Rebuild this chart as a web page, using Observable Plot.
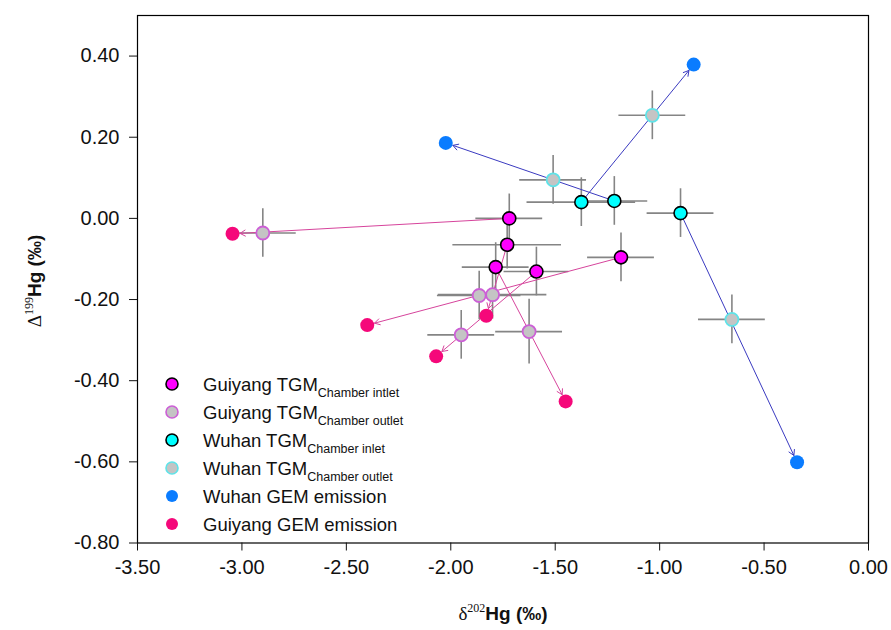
<!DOCTYPE html>
<html>
<head>
<meta charset="utf-8">
<script src="https://cdn.jsdelivr.net/npm/d3@7"></script>
<script src="https://cdn.jsdelivr.net/npm/@observablehq/plot@0.6"></script>
<style>
  body { margin: 0; background: #fff; }
  #chart { position: relative; width: 891px; height: 630px; }
  svg { font-family: "Liberation Sans", Arial, sans-serif; }
</style>
</head>
<body>
<div id="chart"></div>
<script>
// ---- tick values ----
const xTicks = [-3.5, -3, -2.5, -2, -1.5, -1, -0.5, 0];
const yTicks = [-0.8, -0.6, -0.4, -0.2, 0, 0.2, 0.4];

// ---- Guiyang (paired inlet -> outlet -> emission) ----
const guiyangInletX    = [-1.72, -1.73, -1.785, -1.59, -1.185];
const guiyangInletY    = [0.00, -0.065, -0.12, -0.131, -0.096];
const guiyangInletXErr = [0.16, 0.26, 0.16, 0.155, 0.16];
const guiyangInletYErr = [0.06, 0.06, 0.06, 0.06, 0.06];

const guiyangOutletX    = [-2.90, -1.80, -1.625, -1.95, -1.864];
const guiyangOutletY    = [-0.036, -0.188, -0.279, -0.287, -0.19];
const guiyangOutletXErr = [0.16, 0.26, 0.16, 0.16, 0.20];
const guiyangOutletYErr = [0.06, 0.06, 0.08, 0.06, 0.06];

const guiyangGemX = [-3.045, -1.83, -1.45, -2.07, -2.40];
const guiyangGemY = [-0.038, -0.24, -0.451, -0.34, -0.263];

// ---- Wuhan ----
const wuhanInletX    = [-1.375, -1.217, -0.90];
const wuhanInletY    = [0.04, 0.043, 0.013];
const wuhanInletXErr = [0.26, 0.16, 0.16];
const wuhanInletYErr = [0.06, 0.06, 0.06];

const wuhanOutletX    = [-1.035, -1.51, -0.654];
const wuhanOutletY    = [0.254, 0.095, -0.249];
const wuhanOutletXErr = [0.16, 0.16, 0.16];
const wuhanOutletYErr = [0.06, 0.06, 0.06];

const wuhanGemX = [-0.837, -2.024, -0.342];
const wuhanGemY = [0.379, 0.186, -0.601];

// ---- legend ----
const legendLabels = ["Guiyang TGM", "Guiyang TGM", "Wuhan TGM", "Wuhan TGM", "Wuhan GEM emission", "Guiyang GEM emission"];
const legendSubs   = ["Chamber intlet", "Chamber outlet", "Chamber inlet", "Chamber outlet", "", ""];

// ---- styles ----
const C = {
  gInletFill: "#ff00ff", gInletStroke: "#000",
  gOutletFill: "#c4c4c4", gOutletStroke: "#cc5fd6",
  wInletFill: "#00ffff", wInletStroke: "#000",
  wOutletFill: "#c4c4c4", wOutletStroke: "#5fe3e8",
  wGem: "#0a7cff", gGem: "#f5087a",
  gArrow: "#d6449c", wArrow: "#3a3ac0", err: "#858585"
};
const legendStyles = [
  {fill: C.gInletFill, stroke: C.gInletStroke},
  {fill: C.gOutletFill, stroke: C.gOutletStroke},
  {fill: C.wInletFill, stroke: C.wInletStroke},
  {fill: C.wOutletFill, stroke: C.wOutletStroke},
  {fill: C.wGem, stroke: "none"},
  {fill: C.gGem, stroke: "none"}
];

const pts = (X, Y, XE, YE) => X.map((x, i) => ({x, y: Y[i], xe: XE ? XE[i] : 0, ye: YE ? YE[i] : 0}));
const gIn = pts(guiyangInletX, guiyangInletY, guiyangInletXErr, guiyangInletYErr);
const gOut = pts(guiyangOutletX, guiyangOutletY, guiyangOutletXErr, guiyangOutletYErr);
const gGem = pts(guiyangGemX, guiyangGemY);
const wIn = pts(wuhanInletX, wuhanInletY, wuhanInletXErr, wuhanInletYErr);
const wOut = pts(wuhanOutletX, wuhanOutletY, wuhanOutletXErr, wuhanOutletYErr);
const wGem = pts(wuhanGemX, wuhanGemY);
const errPts = [...gIn, ...gOut, ...wIn, ...wOut];
const gLinks = gIn.map((d, i) => ({x1: d.x, y1: d.y, x2: gGem[i].x, y2: gGem[i].y}));
const wLinks = wIn.map((d, i) => ({x1: d.x, y1: d.y, x2: wGem[i].x, y2: wGem[i].y}));

const fmt = d => d.toFixed(2);

const plot = Plot.plot({
  width: 891, height: 630,
  marginLeft: 137, marginRight: 23, marginTop: 15, marginBottom: 87.5,
  style: {fontFamily: '"Liberation Sans", Arial, sans-serif', fontSize: "20px", color: "#111", background: "#fff"},
  x: {domain: [-3.5, 0]},
  y: {domain: [-0.8, 0.5]},
  marks: [
    Plot.ruleY(errPts, {y: "y", x1: d => d.x - d.xe, x2: d => d.x + d.xe, stroke: C.err, strokeWidth: 1.6}),
    Plot.ruleX(errPts, {x: "x", y1: d => d.y - d.ye, y2: d => d.y + d.ye, stroke: C.err, strokeWidth: 1.6}),
    Plot.arrow(gLinks, {x1: "x1", y1: "y1", x2: "x2", y2: "y2", stroke: C.gArrow, strokeWidth: 1, headLength: 9, insetEnd: 7.5, insetStart: 6}),
    Plot.arrow(wLinks, {x1: "x1", y1: "y1", x2: "x2", y2: "y2", stroke: C.wArrow, strokeWidth: 1, headLength: 9, insetEnd: 7.5, insetStart: 6}),
    Plot.dot(gIn, {x: "x", y: "y", r: 6.5, fill: C.gInletFill, stroke: C.gInletStroke, strokeWidth: 1.6}),
    Plot.dot(gOut, {x: "x", y: "y", r: 6.5, fill: C.gOutletFill, stroke: C.gOutletStroke, strokeWidth: 1.8}),
    Plot.dot(wIn, {x: "x", y: "y", r: 6.5, fill: C.wInletFill, stroke: C.wInletStroke, strokeWidth: 1.6}),
    Plot.dot(wOut, {x: "x", y: "y", r: 6.5, fill: C.wOutletFill, stroke: C.wOutletStroke, strokeWidth: 1.8}),
    Plot.dot(gGem, {x: "x", y: "y", r: 7, fill: C.gGem}),
    Plot.dot(wGem, {x: "x", y: "y", r: 7, fill: C.wGem}),
    Plot.frame({stroke: "#000", strokeWidth: 1.2}),
    Plot.axisX({ticks: xTicks, tickFormat: fmt, tickSize: 8, tickPadding: 9, label: null, fontSize: 20}),
    Plot.axisY({ticks: yTicks, tickFormat: fmt, tickSize: 8, tickPadding: 10, label: null, fontSize: 20})
  ]
});
document.getElementById("chart").appendChild(plot);

// ---- axis titles and legend ----
const svg = d3.select(plot);
const xt = svg.append("text").attr("x", 503).attr("y", 620).attr("text-anchor", "middle")
  .attr("font-size", 19).attr("fill", "#111");
xt.append("tspan").attr("font-family", '"Liberation Serif", "Times New Roman", serif').text("\u03b4");
xt.append("tspan").attr("font-family", '"Liberation Serif", "Times New Roman", serif').attr("font-size", 12).attr("dy", -8).text("202");
xt.append("tspan").attr("font-weight", "bold").attr("font-family", '"Liberation Sans Narrow", "Liberation Sans", Arial, sans-serif').attr("dy", 8).text("Hg (\u2030)");

const yt = svg.append("text").attr("transform", "translate(41,281) rotate(-90)").attr("text-anchor", "middle")
  .attr("font-size", 19).attr("fill", "#111");
yt.append("tspan").attr("font-family", '"Liberation Serif", "Times New Roman", serif').text("\u0394");
yt.append("tspan").attr("font-family", '"Liberation Serif", "Times New Roman", serif').attr("font-size", 12).attr("dy", -8).text("199");
yt.append("tspan").attr("font-weight", "bold").attr("font-family", '"Liberation Sans Narrow", "Liberation Sans", Arial, sans-serif').attr("dy", 8).text("Hg (\u2030)");

const lg = svg.append("g").attr("text-anchor", "start");
legendLabels.forEach((lab, i) => {
  const cy = 384 + i * 28;
  lg.append("circle").attr("cx", 172).attr("cy", cy).attr("r", 6)
    .attr("fill", legendStyles[i].fill).attr("stroke", legendStyles[i].stroke).attr("stroke-width", 1.6);
  const t = lg.append("text").attr("x", 203).attr("y", cy + 6.5).attr("text-anchor", "start")
    .attr("font-size", 18.5).attr("fill", "#111");
  t.append("tspan").text(lab);
  if (legendSubs[i]) t.append("tspan").attr("font-size", 12.5).attr("dy", 6).text(legendSubs[i]);
});
</script>
</body>
</html>
